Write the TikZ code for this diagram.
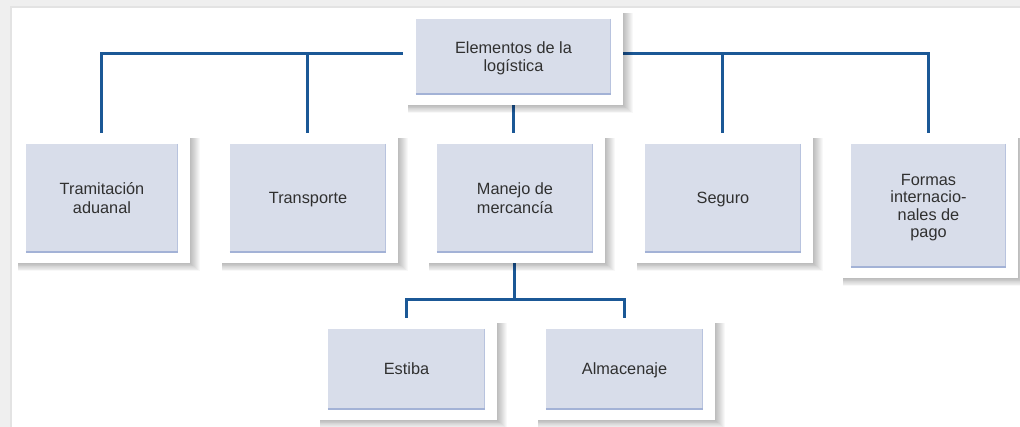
\documentclass[tikz,border=0pt]{standalone}
\usepackage{fontspec}
\setmainfont{Liberation Sans}
\usetikzlibrary{calc}
\pgfdeclarelayer{background}
\pgfdeclarelayer{shadow}
\pgfsetlayers{background,shadow,main}
\definecolor{linkblue}{HTML}{1B5896}
\definecolor{boxfill}{HTML}{D8DDEA}
\definecolor{boxedge}{HTML}{A3B2D6}
\definecolor{txt}{HTML}{303030}
\definecolor{pagegray}{HTML}{EFEFEF}
\definecolor{edgegray}{HTML}{E3E3E3}
\tikzset{
  outerframe/.style={draw=none, fill=white, inner sep=0pt},
  innerbox/.style={draw=none, fill=boxfill, inner sep=0pt, align=center,
    text=txt, font=\fontsize{16.3}{17.5}\selectfont},
  conn/.style={draw=linkblue, line width=3pt},
}
\newcommand{\eq}{\vphantom{Ájp}}
% \ebox{name}{cx}{cy}{outer w}{outer h}{text}
\newcommand{\ebox}[6]{%
  \node[outerframe, minimum width=#4pt, minimum height=#5pt] (#1) at (#2,#3) {};
  \begin{pgfonlayer}{shadow}
    \foreach \k in {1,...,10}{
      \fill[black,opacity=0.028] ($(#1.north west)+(5,5)$) rectangle ($(#1.south east)+(\k,\k*0.8)$);
    }
  \end{pgfonlayer}
  \pgfmathsetmacro{\iw}{#4-25}\pgfmathsetmacro{\ih}{#5-21}
  \node[innerbox, minimum width=\iw pt, minimum height=\ih pt] (#1i) at ($(#1)+(0.5,0.5)$) {#6};
  \draw[boxedge!60!boxfill, line width=1pt] ([xshift=-0.5pt]#1i.north east) -- ([xshift=-0.5pt]#1i.south east);
  \draw[boxedge, line width=2pt] ([yshift=1pt]#1i.south west) -- ([yshift=1pt]#1i.south east);
}
\begin{document}
\begin{tikzpicture}[x=1pt,y=-1pt]
\useasboundingbox (0,0) rectangle (1020,427);
\begin{pgfonlayer}{background}
  \fill[pagegray] (0,0) rectangle (1020,427);
  \fill[edgegray] (10,6) rectangle (1020,427);
  \fill[white] (12,8) rectangle (1020,427);
\end{pgfonlayer}

\ebox{log}{513}{56.5}{220}{97}{\eq Elementos de la\\log\'istica\eq}
\ebox{tram}{101.5}{198}{177}{130}{\eq Tramitaci\'on\\aduanal\eq}
\ebox{trans}{307.5}{198}{181}{130}{\eq Transporte}
\ebox{man}{514.5}{198}{181}{130}{\eq Manejo de\\mercanc\'ia\eq}
\ebox{seg}{722.5}{198}{181}{130}{\eq Seguro}
\ebox{form}{928}{205.5}{180}{145}{\eq Formas\\internacio-\\nales de\\pago\eq}
\ebox{est}{406}{369}{182}{102}{\eq Estiba}
\ebox{alm}{624}{369}{182}{102}{\eq Almacenaje}

\coordinate (hl) at (0,54);
\coordinate (mj) at ($(man.south)+(0,36)$);
\begin{pgfonlayer}{background}
  \draw[conn] (tram.north) |- (log.west |- hl);
  \draw[conn] (trans.north) -- (trans.north |- hl);
  \draw[conn] (form.north) |- (log.east |- hl);
  \draw[conn] (seg.north) -- (seg.north |- hl);
  \draw[conn] (log.south) -- (log.south |- man.north);
  \draw[conn] (man.south) -- (mj);
  \draw[conn] (est.north) |- (mj) -| (alm.north);
\end{pgfonlayer}
\end{tikzpicture}
\end{document}
